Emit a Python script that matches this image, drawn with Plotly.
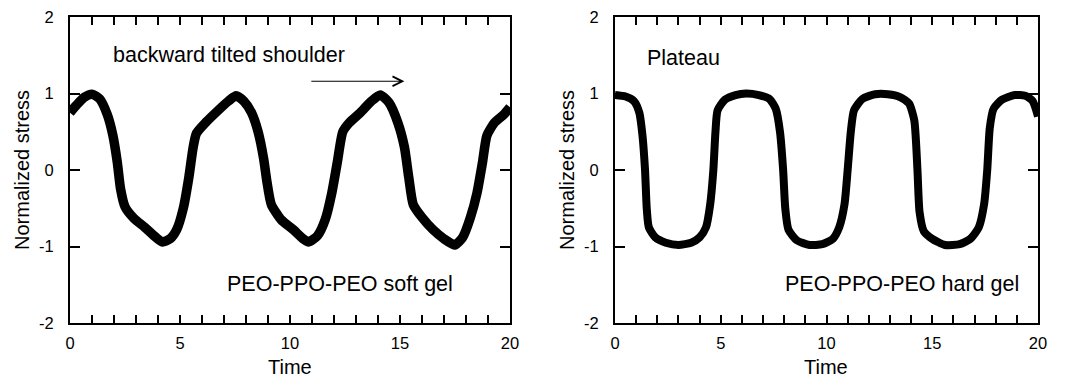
import plotly.graph_objects as go

# ---- data ----
soft_time = [0.0, 0.3, 0.65, 1.0, 1.35, 1.7, 1.95, 2.15, 2.3, 2.5, 2.9, 3.4, 3.9, 4.2, 4.55,
             4.85, 5.15, 5.4, 5.6, 5.75, 6.2, 6.7, 7.2, 7.55, 7.9, 8.25, 8.55, 8.8, 8.95, 9.15,
             9.6, 10.15, 10.6, 10.85, 11.25, 11.6, 11.9, 12.15, 12.4, 12.7, 13.2, 13.7, 14.1,
             14.5, 14.9, 15.2, 15.4, 15.6, 16.0, 16.5, 17.0, 17.5, 17.85, 18.2, 18.5, 18.75,
             18.95, 19.3, 19.7, 20.0]
soft_stress = [0.75, 0.85, 0.95, 0.99, 0.93, 0.72, 0.45, 0.1, -0.25, -0.48, -0.63, -0.75, -0.88,
               -0.94, -0.9, -0.78, -0.5, -0.1, 0.3, 0.48, 0.63, 0.77, 0.9, 0.97, 0.9, 0.75, 0.5,
               0.15, -0.15, -0.45, -0.65, -0.78, -0.9, -0.94, -0.86, -0.65, -0.3, 0.1, 0.5, 0.62,
               0.75, 0.9, 0.98, 0.88, 0.62, 0.3, -0.1, -0.45, -0.62, -0.78, -0.9, -0.98, -0.88,
               -0.62, -0.3, 0.1, 0.45, 0.62, 0.72, 0.82]

hard_time = [0.0, 0.5, 0.9, 1.15, 1.3, 1.42, 1.5, 1.6, 1.9, 2.4, 3.0, 3.6, 4.0, 4.3, 4.5, 4.65,
             4.75, 4.85, 5.2, 5.7, 6.2, 6.8, 7.3, 7.6, 7.8, 7.95, 8.05, 8.2, 8.6, 9.2, 9.8, 10.3,
             10.6, 10.85, 11.0, 11.15, 11.3, 11.7, 12.3, 12.9, 13.5, 13.9, 14.15, 14.3, 14.4,
             14.6, 15.0, 15.6, 16.3, 16.8, 17.2, 17.45, 17.6, 17.72, 17.9, 18.3, 18.9, 19.4,
             19.75, 20.0]
hard_stress = [0.98, 0.96, 0.9, 0.75, 0.45, 0.0, -0.5, -0.75, -0.88, -0.95, -0.98, -0.95, -0.88,
               -0.75, -0.45, 0.0, 0.5, 0.78, 0.92, 0.98, 1.0, 0.98, 0.93, 0.8, 0.5, 0.0, -0.5,
               -0.78, -0.92, -0.98, -0.97, -0.9, -0.75, -0.45, 0.0, 0.5, 0.78, 0.93, 0.99, 0.99,
               0.95, 0.87, 0.65, 0.0, -0.55, -0.8, -0.9, -0.98, -0.97, -0.9, -0.75, -0.45, 0.0,
               0.55, 0.8, 0.92, 0.98, 0.97, 0.9, 0.7]

x_ticks = [0, 5, 10, 15, 20]
x_labels = ["0", "5", "10", "15", "20"]
y_ticks = [-2, -1, 0, 1, 2]
y_labels = ["-2", "-1", "0", "1", "2"]

W, H = 1067, 380
FONT = "Liberation Sans, Arial, sans-serif"

fig = go.Figure()
fig.add_trace(go.Scatter(x=soft_time, y=soft_stress, mode="lines",
                         line=dict(color="black", width=9.5, shape="spline", smoothing=0.6),
                         xaxis="x", yaxis="y", showlegend=False))
fig.add_trace(go.Scatter(x=hard_time, y=hard_stress, mode="lines",
                         line=dict(color="black", width=8, shape="spline", smoothing=0.6),
                         xaxis="x2", yaxis="y2", showlegend=False))

def xaxis(domain, anchor):
    return dict(domain=domain, anchor=anchor, range=[0, 20], tickvals=x_ticks, ticktext=x_labels,
                ticks="inside", ticklen=8, tickwidth=1.5, tickcolor="black",
                minor=dict(dtick=1, ticks="inside", ticklen=8, tickwidth=1.5, tickcolor="black"),
                showline=True, linecolor="black", linewidth=2, mirror="allticks",
                showgrid=False, zeroline=False, automargin=False,
                tickfont=dict(size=16.5, color="black"), ticklabelstandoff=4)

def yaxis(domain, anchor):
    return dict(domain=domain, anchor=anchor, range=[-2, 2], tickvals=y_ticks, ticktext=y_labels,
                ticks="inside", ticklen=10, tickwidth=1.5, tickcolor="black",
                showline=True, linecolor="black", linewidth=2, mirror="allticks",
                showgrid=False, zeroline=False, automargin=False,
                tickfont=dict(size=16.5, color="black"), ticklabelstandoff=11)

ydom = [1 - 323 / H, 1 - 17 / H]
fig.update_layout(
    template="none",
    width=W, height=H, margin=dict(l=0, r=0, t=0, b=0, pad=0),
    paper_bgcolor="white", plot_bgcolor="white",
    font=dict(family=FONT, color="black"),
    xaxis=xaxis([70 / W, 510 / W], "y"),
    yaxis=yaxis(ydom, "x"),
    xaxis2=xaxis([615 / W, 1038 / W], "y2"),
    yaxis2=yaxis(ydom, "x2"),
)

ann = [
    dict(text="backward tilted shoulder", x=1.86, y=1.5, xref="x", yref="y",
         xanchor="left", yanchor="middle", showarrow=False, font=dict(size=21.5)),
    dict(text="", x=15.2, y=1.16, ax=10.9, ay=1.16, xref="x", yref="y", axref="x", ayref="y",
         showarrow=True, arrowhead=5, arrowsize=1.6, arrowwidth=1.2, arrowcolor="black"),
    dict(text="PEO-PPO-PEO soft gel", x=7.05, y=-1.49, xref="x", yref="y",
         xanchor="left", yanchor="middle", showarrow=False, font=dict(size=21.5)),
    dict(text="Plateau", x=1.42, y=1.47, xref="x2", yref="y2",
         xanchor="left", yanchor="middle", showarrow=False, font=dict(size=21.5)),
    dict(text="PEO-PPO-PEO hard gel", x=7.94, y=-1.49, xref="x2", yref="y2",
         xanchor="left", yanchor="middle", showarrow=False, font=dict(size=21.5)),
    dict(text="Time", x=290 / W, y=1 - 367 / H, xref="paper", yref="paper",
         xanchor="center", yanchor="middle", showarrow=False, font=dict(size=20)),
    dict(text="Time", x=826 / W, y=1 - 367 / H, xref="paper", yref="paper",
         xanchor="center", yanchor="middle", showarrow=False, font=dict(size=20)),
    dict(text="Normalized stress", x=22 / W, y=1 - 170 / H, xref="paper", yref="paper",
         xanchor="center", yanchor="middle", textangle=-90, showarrow=False, font=dict(size=20)),
    dict(text="Normalized stress", x=567 / W, y=1 - 170 / H, xref="paper", yref="paper",
         xanchor="center", yanchor="middle", textangle=-90, showarrow=False, font=dict(size=20)),
]
fig.update_layout(annotations=ann)

fig.write_html("out.html")
